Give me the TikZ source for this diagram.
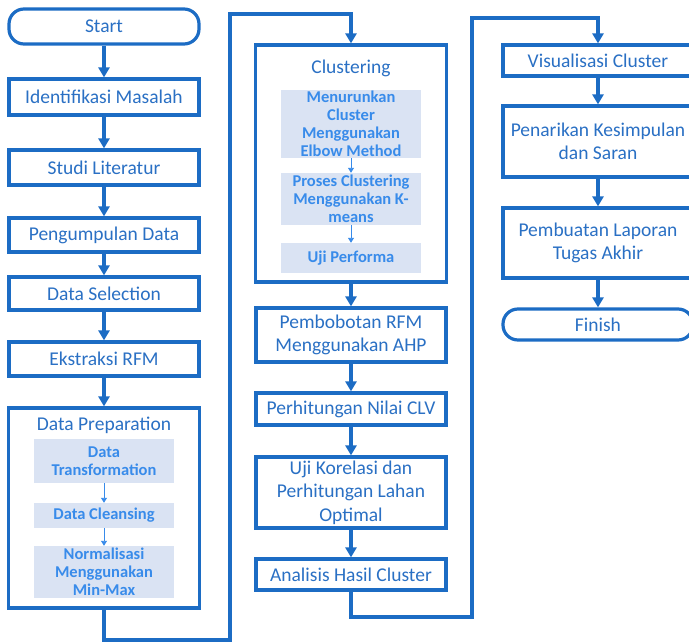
\documentclass[tikz,border=0pt]{standalone}
\usepackage{fontspec}
\setmainfont{Carlito}
\usetikzlibrary{arrows.meta,positioning,calc}
\definecolor{flowblue}{HTML}{1C6CC4}
\definecolor{flowtext}{HTML}{2A70C4}
\definecolor{subfill}{HTML}{DAE3F3}
\definecolor{subtext}{HTML}{388BEA}

\begin{document}
\begin{tikzpicture}[
  x=1pt, y=-1pt,
  font=\fontsize{19.5}{23.5}\selectfont,
  procbox/.style={draw=flowblue, line width=3.2pt, fill=white,
    minimum width=190pt, align=center, text=flowtext, inner sep=0pt},
  termbox/.style={procbox, rounded corners=15pt},
  groupbox/.style={draw=flowblue, line width=3.2pt, fill=white,
    minimum width=191pt},
  subbox/.style={fill=subfill, minimum width=140pt, align=center,
    text=subtext, inner sep=0pt, font=\fontsize{16.5}{18}\selectfont\bfseries},
  flow/.style={-{Triangle[length=10pt, width=11pt]}, line width=3.2pt, draw=flowblue},
  subflow/.style={-{Triangle[length=5pt, width=6pt]}, line width=0.9pt, draw=subtext}
]
  \useasboundingbox (0,0) rectangle (689,642);

  % kolom pertama
  \node[termbox, minimum height=35pt] (start) at (104,26.5) {Start};
  \node[procbox, minimum height=36pt] (ident) at (104,97) {Identifikasi Masalah};
  \node[procbox, minimum height=35pt] (studi) at (104,167.5) {Studi Literatur};
  \node[procbox, minimum height=34pt] (kumpul) at (104,235) {Pengumpulan Data};
  \node[procbox, minimum height=33pt] (select) at (104,293.5) {Data Selection};
  \node[procbox, minimum height=34pt] (ekstrak) at (104,359) {Ekstraksi RFM};

  \node[groupbox, minimum height=200pt] (prep) at (104,508) {};
  \node[text=flowtext] (preptitle) at (104,425) {Data Preparation};
  \node[subbox, minimum height=44pt] (transform) at (104,461) {Data\\Transformation};
  \node[subbox, minimum height=25pt] (cleansing) at (104,515.5) {Data Cleansing};
  \node[subbox, minimum height=52pt] (minmax) at (104,572) {Normalisasi\\Menggunakan\\Min-Max};

  % kolom kedua
  \node[groupbox, minimum height=237pt] (cluster) at (351,163.5) {};
  \node[text=flowtext] (clustertitle) at (351,68) {Clustering};
  \node[subbox, minimum height=68pt] (elbow) at (351,124) {Menurunkan\\Cluster\\Menggunakan\\Elbow Method};
  \node[subbox, minimum height=52pt] (kmeans) at (351,199) {Proses Clustering\\Menggunakan K-\\means};
  \node[subbox, minimum height=30pt] (performa) at (351,258) {Uji Performa};

  \node[procbox, minimum height=54pt] (ahp) at (351,335) {Pembobotan RFM\\Menggunakan AHP};
  \node[procbox, minimum height=32pt] (clv) at (351,409) {Perhitungan Nilai CLV};
  \node[procbox, minimum height=71pt] (korelasi) at (351,492.5) {Uji Korelasi dan\\Perhitungan Lahan\\Optimal};
  \node[procbox, minimum height=31pt] (analisis) at (351,574.5) {Analisis Hasil Cluster};

  % kolom ketiga
  \node[procbox, minimum height=31pt] (visual) at (598,60.5) {Visualisasi Cluster};
  \node[procbox, minimum height=71pt] (simpulan) at (598,141.5) {Penarikan Kesimpulan\\dan Saran};
  \node[procbox, minimum height=70pt] (laporan) at (598,243) {Pembuatan Laporan\\Tugas Akhir};
  \node[termbox, minimum height=31pt] (finish) at (598,324.5) {Finish};

  % titik belok
  \coordinate (turnA) at (104,640);
  \coordinate (turnB) at (230,640);
  \coordinate (turnC) at (230,14);
  \coordinate (turnD) at (351,14);
  \coordinate (turnE) at (351,617);
  \coordinate (turnF) at (472,617);
  \coordinate (turnG) at (472,18);
  \coordinate (turnH) at (598,18);

  \draw[flow] (start) -- (ident);
  \draw[flow] (ident) -- (studi);
  \draw[flow] (studi) -- (kumpul);
  \draw[flow] (kumpul) -- (select);
  \draw[flow] (select) -- (ekstrak);
  \draw[flow] (ekstrak) -- (prep);
  \draw[subflow] (transform) -- (cleansing);
  \draw[subflow] (cleansing) -- (minmax);
  \draw[flow, line join=miter] (prep.south) -- (turnA) -- (turnB) -- (turnC) -- (turnD) -- (cluster.north);

  \draw[subflow] (elbow) -- (kmeans);
  \draw[subflow] (kmeans) -- (performa);
  \draw[flow] (cluster) -- (ahp);
  \draw[flow] (ahp) -- (clv);
  \draw[flow] (clv) -- (korelasi);
  \draw[flow] (korelasi) -- (analisis);
  \draw[flow, line join=miter] (analisis.south) -- (turnE) -- (turnF) -- (turnG) -- (turnH) -- (visual.north);

  \draw[flow] (visual) -- (simpulan);
  \draw[flow] (simpulan) -- (laporan);
  \draw[flow] (laporan) -- (finish);
\end{tikzpicture}
\end{document}
